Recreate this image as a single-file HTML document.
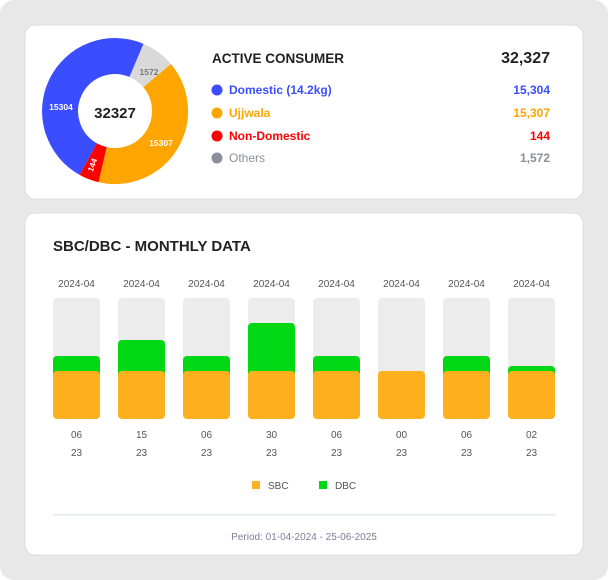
<!DOCTYPE html>
<html><head><meta charset="utf-8"><style>
html,body{margin:0;padding:0;background:#fff;}
svg{display:block;font-family:"Liberation Sans",sans-serif;}
</style></head><body>
<svg width="608" height="580" viewBox="0 0 608 580" xmlns="http://www.w3.org/2000/svg">
<rect x="0" y="0" width="608" height="580" rx="14" fill="#e8e8e8"/>
<rect x="25" y="25" width="558" height="174" rx="10" fill="#fff" stroke="#dcdcdc" stroke-width="1"/>
<rect x="25" y="213" width="558" height="342" rx="10" fill="#fff" stroke="#dcdcdc" stroke-width="1"/>
<!-- donut -->
<g fill="none" stroke-width="36">
<path d="M88.3 159.1 A55 55 0 0 1 136.5 60.4" stroke="#3a4dff"/>
<path d="M136.5 60.4 A55 55 0 0 1 157.1 75.6" stroke="#d9d9d9"/>
<path d="M157.1 75.6 A55 55 0 0 1 102.6 164.6" stroke="#ffa500"/>
<path d="M102.6 164.6 A55 55 0 0 1 88.3 159.1" stroke="#f00"/>
</g>
<text x="115" y="118" text-anchor="middle" font-size="15" font-weight="bold" fill="#222">32327</text>
<text x="61" y="110" text-anchor="middle" font-size="8.5" font-weight="bold" fill="#fff">15304</text>
<text x="161" y="146" text-anchor="middle" font-size="8.5" font-weight="bold" fill="#fff">15307</text>
<text x="149" y="75" text-anchor="middle" font-size="8.5" font-weight="bold" fill="#777">1572</text>
<text x="0" y="0" text-anchor="middle" font-size="8" font-weight="bold" fill="#fff" transform="translate(95,166) rotate(-70)">144</text>
<!-- legend top -->
<text x="212" y="63" font-size="13.5" font-weight="bold" fill="#222">ACTIVE CONSUMER</text>
<text x="550" y="63" text-anchor="end" font-size="16" font-weight="bold" fill="#222">32,327</text>
<g font-size="12" font-weight="bold">
<circle cx="217" cy="90" r="5.5" fill="#3a4dff"/><text x="229" y="94" fill="#3a4dff">Domestic (14.2kg)</text><text x="550" y="94" text-anchor="end" fill="#3a4dff">15,304</text>
<circle cx="217" cy="113" r="5.5" fill="#ffa500"/><text x="229" y="117" fill="#ffa500">Ujjwala</text><text x="550" y="117" text-anchor="end" fill="#ffa500">15,307</text>
<circle cx="217" cy="136" r="5.5" fill="#f00"/><text x="229" y="140" fill="#f00">Non-Domestic</text><text x="550" y="140" text-anchor="end" fill="#f00">144</text>
<circle cx="217" cy="158" r="5.5" fill="#8a8f9a"/><text x="229" y="162" fill="#8a8f9a" font-weight="normal">Others</text><text x="550" y="162" text-anchor="end" fill="#8a8f9a">1,572</text>
</g>
<text x="53" y="251" font-size="15" font-weight="bold" fill="#222">SBC/DBC - MONTHLY DATA</text>
<!-- bars -->
<g font-size="10" fill="#555" text-anchor="middle">
<g transform="translate(53,0)"><text x="23.5" y="287">2024-04</text><rect y="298" width="47" height="121" rx="4" fill="#ececec"/><rect y="356" width="47" height="30" rx="4" fill="#00d816"/><rect y="371" width="47" height="48" rx="4" fill="#ffb01f"/><text x="23.5" y="438">06</text><text x="23.5" y="456">23</text></g>
<g transform="translate(118,0)"><text x="23.5" y="287">2024-04</text><rect y="298" width="47" height="121" rx="4" fill="#ececec"/><rect y="340" width="47" height="46" rx="4" fill="#00d816"/><rect y="371" width="47" height="48" rx="4" fill="#ffb01f"/><text x="23.5" y="438">15</text><text x="23.5" y="456">23</text></g>
<g transform="translate(183,0)"><text x="23.5" y="287">2024-04</text><rect y="298" width="47" height="121" rx="4" fill="#ececec"/><rect y="356" width="47" height="30" rx="4" fill="#00d816"/><rect y="371" width="47" height="48" rx="4" fill="#ffb01f"/><text x="23.5" y="438">06</text><text x="23.5" y="456">23</text></g>
<g transform="translate(248,0)"><text x="23.5" y="287">2024-04</text><rect y="298" width="47" height="121" rx="4" fill="#ececec"/><rect y="323" width="47" height="63" rx="4" fill="#00d816"/><rect y="371" width="47" height="48" rx="4" fill="#ffb01f"/><text x="23.5" y="438">30</text><text x="23.5" y="456">23</text></g>
<g transform="translate(313,0)"><text x="23.5" y="287">2024-04</text><rect y="298" width="47" height="121" rx="4" fill="#ececec"/><rect y="356" width="47" height="30" rx="4" fill="#00d816"/><rect y="371" width="47" height="48" rx="4" fill="#ffb01f"/><text x="23.5" y="438">06</text><text x="23.5" y="456">23</text></g>
<g transform="translate(378,0)"><text x="23.5" y="287">2024-04</text><rect y="298" width="47" height="121" rx="4" fill="#ececec"/><rect y="371" width="47" height="48" rx="4" fill="#ffb01f"/><text x="23.5" y="438">00</text><text x="23.5" y="456">23</text></g>
<g transform="translate(443,0)"><text x="23.5" y="287">2024-04</text><rect y="298" width="47" height="121" rx="4" fill="#ececec"/><rect y="356" width="47" height="30" rx="4" fill="#00d816"/><rect y="371" width="47" height="48" rx="4" fill="#ffb01f"/><text x="23.5" y="438">06</text><text x="23.5" y="456">23</text></g>
<g transform="translate(508,0)"><text x="23.5" y="287">2024-04</text><rect y="298" width="47" height="121" rx="4" fill="#ececec"/><rect y="366" width="47" height="20" rx="4" fill="#00d816"/><rect y="371" width="47" height="48" rx="4" fill="#ffb01f"/><text x="23.5" y="438">02</text><text x="23.5" y="456">23</text></g>
</g>
<rect x="252" y="481" width="8" height="8" fill="#ffb01f"/><text x="268" y="489" font-size="10" fill="#555">SBC</text>
<rect x="319" y="481" width="8" height="8" fill="#00d816"/><text x="335" y="489" font-size="10" fill="#555">DBC</text>
<rect x="53" y="514" width="503" height="1.5" fill="#e4e8ee"/>
<text x="304" y="540" text-anchor="middle" font-size="10" fill="#7a8194">Period: 01-04-2024 - 25-06-2025</text>
</svg>
</body></html>
